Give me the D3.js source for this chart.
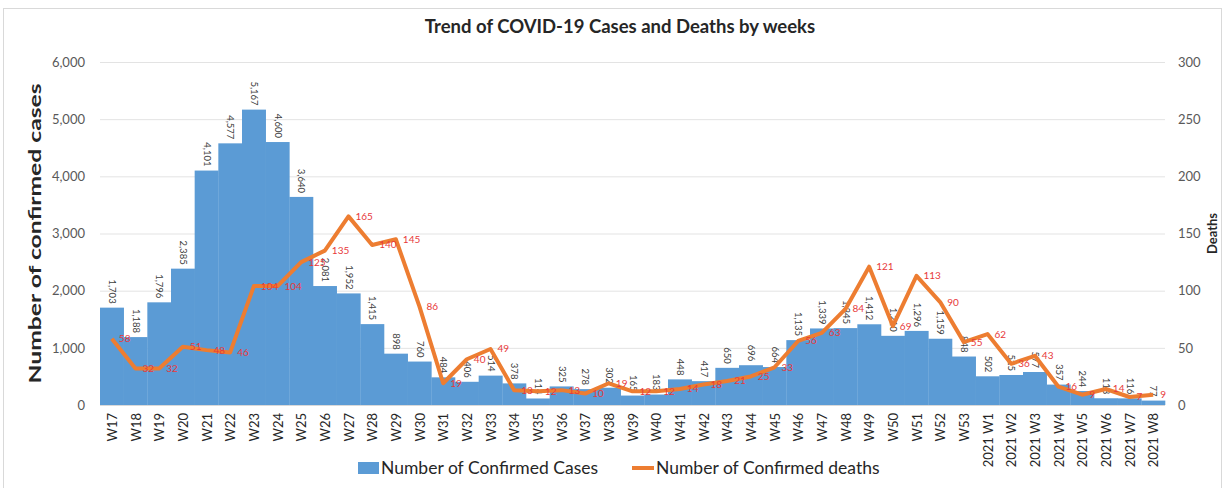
<!DOCTYPE html>
<html>
<head>
<meta charset="utf-8">
<script src="https://cdn.jsdelivr.net/npm/d3@7.9.0/dist/d3.min.js"></script>
<style>
  body { margin: 0; background: #fff; }
  svg { font-family: Lato, "Open Sans", sans-serif; }
</style>
</head>
<body>
<svg id="chart" width="1226" height="488"></svg>
<script>
const weeks = ['W17','W18','W19','W20','W21','W22','W23','W24','W25','W26','W27','W28','W29','W30',
  'W31','W32','W33','W34','W35','W36','W37','W38','W39','W40','W41','W42','W43','W44','W45','W46',
  'W47','W48','W49','W50','W51','W52','W53',
  '2021 W1','2021 W2','2021 W3','2021 W4','2021 W5','2021 W6','2021 W7','2021 W8'];

const cases = [1703,1188,1796,2385,4101,4577,5167,4600,3640,2081,1952,1415,898,760,
  484,406,514,378,114,325,278,302,165,183,448,417,650,696,664,1135,
  1339,1345,1412,1210,1296,1159,848,
  502,525,577,357,244,118,116,77];

const deaths = [58,32,32,51,48,46,104,104,125,135,165,140,145,86,
  19,40,49,13,12,13,10,19,12,12,14,18,21,25,33,56,
  63,84,121,69,113,90,55,
  62,36,43,16,9,14,7,9];

const leftTicks = [0,1000,2000,3000,4000,5000,6000];
const rightTicks = [0,50,100,150,200,250,300];

const svg = d3.select('#chart');
const margin = { left: 100, right: 61, top: 62, bottom: 83 };
const W = 1226, H = 488;

// frame
svg.append('rect').attr('x', 3.5).attr('y', 8.5).attr('width', 1218).attr('height', 480)
  .attr('fill', 'none').attr('stroke', '#d9d9d9');

let x = d3.scaleBand().domain(weeks).range([margin.left, W - margin.right]).padding(0);
let y = d3.scaleLinear().domain([0, 6000]).range([H - margin.bottom, margin.top]);
let y2 = d3.scaleLinear().domain([0, 300]).range([H - margin.bottom, margin.top]);

// gridlines
svg.append('g').selectAll('line').data(leftTicks.slice(1)).join('line')
  .attr('x1', margin.left).attr('x2', W - margin.right)
  .attr('y1', d => y(d) + 0.5).attr('y2', d => y(d) + 0.5)
  .attr('stroke', '#e3e3e3');

// left axis
let yAxis = svg.append('g').attr('transform', `translate(${margin.left - 12},0)`)
  .call(d3.axisLeft(y).tickValues(leftTicks).tickFormat(d3.format(',')).tickSize(0));
yAxis.select('.domain').remove();
yAxis.selectAll('text').attr('font-size', 13).attr('fill', '#595959').attr('font-family', 'Lato, sans-serif');

// right axis
let y2Axis = svg.append('g').attr('transform', `translate(${W - margin.right + 10},0)`)
  .call(d3.axisRight(y2).tickValues(rightTicks).tickSize(0));
y2Axis.select('.domain').remove();
y2Axis.selectAll('text').attr('font-size', 13).attr('fill', '#595959').attr('font-family', 'Lato, sans-serif');

// bars
svg.append('g').selectAll('rect').data(cases).join('rect')
  .attr('x', (d, i) => x(weeks[i]))
  .attr('y', d => y(d))
  .attr('width', x.bandwidth() + 0.3)
  .attr('height', d => y(0) - y(d))
  .attr('fill', '#5b9bd5');

// case labels
svg.append('g').selectAll('text').data(cases).join('text')
  .attr('transform', (d, i) => `translate(${x(weeks[i]) + x.bandwidth() / 2 - 3},${y(d) - 4}) rotate(90)`)
  .attr('text-anchor', 'end')
  .attr('font-size', 9.5)
  .attr('fill', '#404040')
  .text(d => d3.format(',')(d));

// deaths line
let line = d3.line()
  .x((d, i) => x(weeks[i]) + x.bandwidth() / 2)
  .y(d => y2(d));

svg.append('path').datum(deaths)
  .attr('d', line)
  .attr('fill', 'none')
  .attr('stroke', '#ed7d31')
  .attr('stroke-width', 4)
  .attr('stroke-linejoin', 'round');

// death labels
svg.append('g').selectAll('text').data(deaths).join('text')
  .attr('x', (d, i) => x(weeks[i]) + x.bandwidth() / 2 + 7)
  .attr('y', d => y2(d) + 3.5)
  .attr('font-size', 10)
  .attr('fill', '#e8393a')
  .text(d => d);

// baseline
svg.append('line').attr('x1', margin.left).attr('x2', W - margin.right)
  .attr('y1', y(0) + 0.5).attr('y2', y(0) + 0.5).attr('stroke', '#d9d9d9');

// x axis labels
svg.append('g').selectAll('text').data(weeks).join('text')
  .attr('transform', d => `translate(${x(d) + x.bandwidth() / 2 + 5},${y(0) + 8}) rotate(-90)`)
  .attr('text-anchor', 'end')
  .attr('font-size', 13)
  .attr('fill', '#262626')
  .text(d => d);

// title
svg.append('text').attr('x', 620).attr('y', 33).attr('text-anchor', 'middle')
  .attr('font-size', 18.5).attr('font-weight', 'bold').attr('fill', '#262626')
  .text('Trend of COVID-19 Cases and Deaths by weeks');

// axis titles
svg.append('text').attr('transform', `translate(41,${(y(0) + y(6000)) / 2 }) rotate(-90)`)
  .attr('text-anchor', 'middle').attr('font-size', 17).attr('font-weight', 'bold').attr('fill', '#262626')
  .attr('textLength', 300).attr('lengthAdjust', 'spacingAndGlyphs')
  .text('Number of confirmed cases');

svg.append('text').attr('transform', `translate(1217,${(y(0) + y(6000)) / 2 }) rotate(-90)`)
  .attr('text-anchor', 'middle').attr('font-size', 13).attr('font-weight', 'bold').attr('fill', '#262626')
  .text('Deaths');

// legend
let legend = svg.append('g');
legend.append('rect').attr('x', 358).attr('y', 462).attr('width', 21).attr('height', 12).attr('fill', '#5b9bd5');
legend.append('text').attr('x', 381).attr('y', 474).attr('font-size', 17.5).attr('fill', '#262626')
  .text('Number of Confirmed Cases');
legend.append('line').attr('x1', 632).attr('x2', 654).attr('y1', 468).attr('y2', 468)
  .attr('stroke', '#ed7d31').attr('stroke-width', 4);
legend.append('text').attr('x', 656).attr('y', 474).attr('font-size', 17.5).attr('fill', '#262626')
  .text('Number of Confirmed deaths');
</script>
</body>
</html>
